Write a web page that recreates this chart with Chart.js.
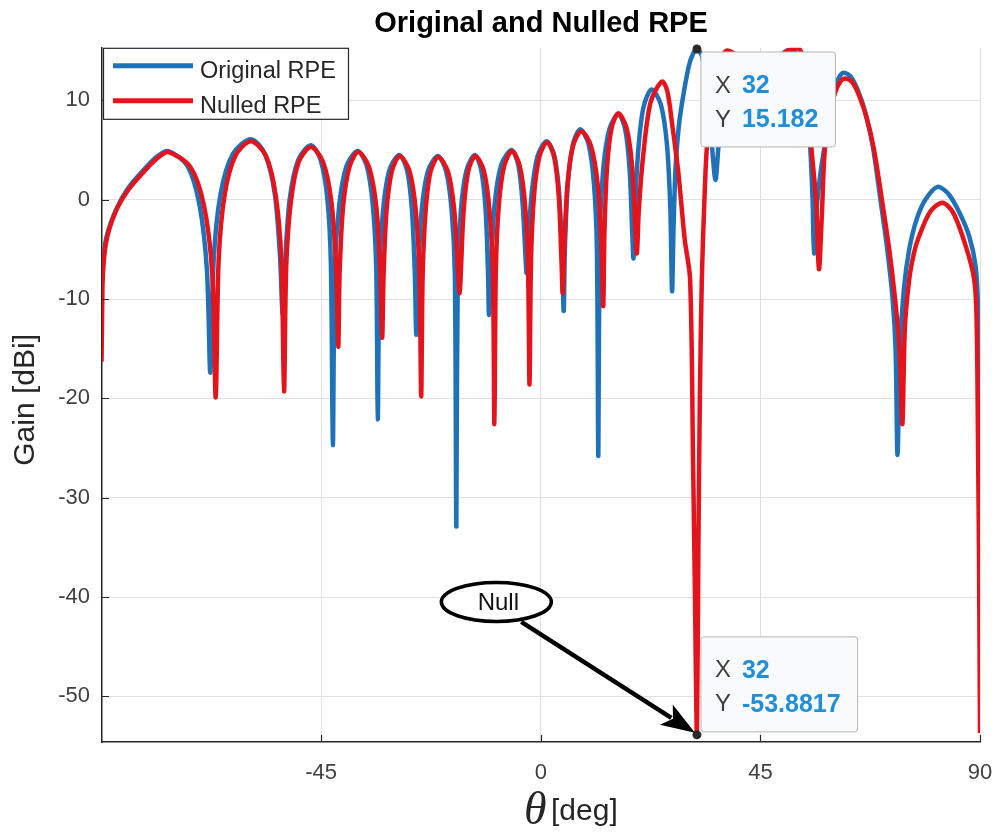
<!DOCTYPE html>
<html>
<head>
<meta charset="utf-8">
<title>Original and Nulled RPE</title>
<script src="https://cdn.jsdelivr.net/npm/chart.js@4.4.1/dist/chart.umd.min.js"></script>
<style>
  html, body { margin: 0; padding: 0; background: #fff; }
  #wrap { width: 994px; height: 832px; }
</style>
</head>
<body>
<div id="wrap"><canvas id="rpeChart" width="994" height="832"></canvas></div>
<script>
// Valores (theta em graus, ganho em dBi)
const xTicks = [-45, 0, 45, 90];
const yTicks = [-50, -40, -30, -20, -10, 0, 10];

const thetaOriginal = [
  -90, -89.7, -89.0, -87.0, -84.5, -81.0, -78.5, -76.3, -72.4, -69.9, -68.4, -67.7,
  -67.0, -65.6, -63.1, -59.4, -56.5, -54.5, -53.4, -52.9,
  -52.4, -51.45, -49.7, -47.1, -45.1, -43.7, -43.0, -42.6,
  -42.2, -41.3, -39.8, -37.5, -35.65, -34.4, -33.7, -33.4,
  -33.05, -32.3, -31.0, -29.0, -27.4, -26.4, -25.8, -25.5,
  -25.15, -24.4, -23.1, -21.1, -19.4, -18.25, -17.6, -17.3,
  -17.0, -16.35, -15.2, -13.5, -12.2, -11.3, -10.8, -10.6,
  -10.2, -9.45, -8.1, -6.0, -4.6, -3.7, -3.15, -2.9,
  -2.6, -1.9, -0.65, 1.2, 2.8, 3.8, 4.4, 4.7,
  4.95, 5.55, 6.6, 8.1, 9.8, 10.9, 11.5, 11.8,
  12.1, 12.8, 14.05, 15.9, 17.3, 18.2, 18.75, 19.0,
  19.3, 19.9, 21.0, 22.7, 24.6, 25.85, 26.55, 26.9,
  27.2, 27.6, 28.2, 28.9, 30.3, 31.2, 32.0, 33.0, 34.0, 34.6, 35.1, 35.8, 36.4,
  37.2, 38.3, 40.0, 42.5, 44.5, 46.0, 48.0, 51.0, 53.5, 54.6, 55.3, 55.7, 56.0,
  56.6, 57.4, 58.2, 59.3, 60.3, 61.2, 62.1, 63.5, 65.0, 66.5, 68.0, 69.6, 71.0, 72.1, 72.7, 73.1,
  73.6, 74.4, 75.5, 77.0, 78.8, 81.3, 83.5, 85.8, 87.8, 89.1, 89.6, 89.9, 90.0
];
const gainOriginal = [
  -9.0, -6.5, -3.8, -1.0, 1.2, 3.2, 4.4, 4.9, 3.4, -0.6, -7.1, -17.4,
  -5.9, 0.6, 4.6, 6.1, 4.6, 0.6, -5.9, -11.5,
  -6.5, 0.0, 4.0, 5.5, 4.0, 0.0, -6.5, -24.7,
  -7.1, -0.6, 3.4, 4.9, 3.4, -0.6, -7.1, -22.1,
  -7.5, -1.0, 3.0, 4.5, 3.0, -1.0, -7.5, -13.6,
  -7.6, -1.1, 2.9, 4.4, 2.9, -1.1, -7.6, -32.9,
  -7.5, -1.0, 3.0, 4.5, 3.0, -1.0, -7.5, -11.6,
  -7.0, -0.5, 3.5, 5.0, 3.5, -0.5, -5.5, -7.4,
  -5.0, 0.4, 4.4, 5.9, 4.4, 0.4, -6.1, -11.2,
  -4.9, 1.6, 5.6, 7.1, 5.6, 1.6, -4.9, -25.8,
  -3.4, 3.1, 7.1, 8.6, 7.1, 3.1, -3.4, -5.9,
  -1.5, 4.5, 9.2, 11.1, 9.6, 5.6, -0.9, -9.2,
  -3.0, 3.0, 7.0, 9.6, 13.4, 14.7, 15.18, 14.5, 11.5, 8.3, 5.3, 2.0, 5.3,
  9.5, 12.8, 14.6, 13.5, 10.5, 11.0, 13.8, 15.1, 14.0, 10.0, 4.5, 0.0, -5.4,
  -0.5, 3.0, 5.5, 9.0, 11.2, 12.4, 12.8, 12.4, 11.0, 8.8, 5.5, 0.0, -5.0, -10.0, -15.0, -25.7,
  -15.0, -9.0, -5.0, -2.0, 0.0, 1.3, 0.6, -1.3, -3.7, -6.7, -11.0, -22.0, -39.5
];

const thetaNulled = [
  -90, -89.8, -89.1, -87.2, -84.5, -81.0, -78.5, -76.3, -71.8, -69.0, -67.3, -66.6,
  -66.0, -64.8, -62.6, -59.4, -56.3, -54.3, -53.15, -52.6,
  -52.15, -51.2, -49.6, -47.1, -44.6, -42.9, -41.95, -41.5,
  -41.2, -40.5, -39.2, -37.4, -35.2, -33.7, -32.9, -32.5,
  -32.2, -31.6, -30.5, -28.9, -26.9, -25.6, -24.85, -24.5,
  -24.2, -23.6, -22.6, -21.0, -19.0, -17.7, -16.95, -16.6,
  -16.35, -15.8, -14.85, -13.4, -11.65, -10.5, -9.8, -9.5,
  -9.2, -8.6, -7.5, -5.9, -4.3, -3.2, -2.6, -2.3,
  -2.0, -1.4, -0.3, 1.3, 2.75, 3.7, 4.25, 4.5,
  4.8, 5.45, 6.6, 8.3, 10.3, 11.7, 12.45, 12.8,
  13.05, 13.58, 14.5, 15.9, 17.6, 18.75, 19.4, 19.7,
  20.1, 21.0, 22.5, 24.8, 25.9, 26.9, 28.2, 29.5, 30.6, 31.2, 31.6, 32.0,
  32.3, 32.6, 33.0, 33.5, 34.0, 35.0, 36.5, 38.0, 40.0, 43.0, 45.0, 47.0, 50.0, 53.0, 54.5, 55.5, 56.4, 57.0,
  57.6, 58.2, 59.3, 60.3, 61.4, 62.5, 63.9, 65.3, 66.8, 68.3, 69.9, 71.4, 72.6, 73.5, 74.1,
  74.6, 75.5, 76.5, 77.5, 79.8, 82.3, 84.5, 87.1, 88.8, 89.3, 89.6, 89.8, 90.0
];
const gainNulled = [
  -16.3, -8.5, -4.4, -1.3, 1.0, 3.0, 4.2, 4.8, 3.3, -0.6, -7.5, -19.9,
  -6.1, 0.4, 4.4, 5.9, 4.4, 0.4, -6.1, -19.3,
  -6.7, -0.2, 3.8, 5.3, 3.8, -0.2, -6.7, -14.8,
  -7.2, -0.7, 3.3, 4.8, 3.3, -0.7, -7.2, -13.9,
  -7.6, -1.1, 2.9, 4.4, 2.9, -1.1, -7.6, -19.8,
  -7.7, -1.2, 2.8, 4.3, 2.8, -1.2, -7.3, -9.4,
  -7.0, -1.1, 2.9, 4.4, 2.9, -1.1, -7.6, -22.6,
  -7.1, -0.6, 3.4, 4.9, 3.4, -0.6, -7.1, -18.6,
  -6.2, 0.3, 4.3, 5.8, 4.3, 0.3, -6.2, -9.4,
  -5.1, 1.4, 5.4, 6.9, 5.4, 1.4, -5.1, -10.7,
  -3.3, 3.2, 7.2, 8.7, 7.2, 3.2, -3.3, -5.4,
  -1.0, 4.5, 9.8, 11.9, 11.0, 7.7, 2.7, -4.0, -8.0, -26.0, -40.0, -53.88,
  -35.0, -20.0, -8.0, -0.5, 5.0, 10.0, 13.5, 15.0, 14.5, 11.0, 9.0, 11.5, 14.8, 15.2, 12.0, 5.0, 0.0, -7.0,
  -1.5, 5.0, 8.8, 10.8, 11.9, 12.2, 11.8, 10.4, 8.2, 5.0, 0.0, -5.0, -10.0, -15.0, -22.6,
  -13.0, -8.0, -5.3, -3.7, -1.2, -0.3, -1.3, -4.7, -8.0, -12.0, -25.0, -36.0, -53.7
];

// Datatips e anotação "Null"
const tipTheta = 32;
const tipTopGain = 15.182;
const tipBottomGain = -53.8817;
const nullLabelAt = [-9.1, -40.5];
const arrowFrom = [-4.0, -42.5];

const fontSans = '"Liberation Sans", Arial, Helvetica, sans-serif';
const axisColor = '#262626';
const tickColor = '#404040';

function toPoints(xs, ys) {
  return xs.map((t, i) => ({ x: t, y: ys[i] }));
}

function roundBox(ctx, x, y, w, h, r) {
  ctx.beginPath();
  ctx.moveTo(x + r, y);
  ctx.lineTo(x + w - r, y);
  ctx.quadraticCurveTo(x + w, y, x + w, y + r);
  ctx.lineTo(x + w, y + h - r);
  ctx.quadraticCurveTo(x + w, y + h, x + w - r, y + h);
  ctx.lineTo(x + r, y + h);
  ctx.quadraticCurveTo(x, y + h, x, y + h - r);
  ctx.lineTo(x, y + r);
  ctx.quadraticCurveTo(x, y, x + r, y);
  ctx.closePath();
}

// Caixa de datatip no estilo MATLAB
function drawTip(ctx, px, py, xv, yv, below) {
  ctx.font = 'bold 25px ' + fontSans;
  const vw = Math.max(ctx.measureText(String(xv)).width, ctx.measureText(String(yv)).width);
  const w = 41 + vw + 17;
  const h = 95;
  const left = px + 4;
  const top = below ? py + 3 : py - 3 - h;

  roundBox(ctx, left, top, w, h, 3);
  ctx.fillStyle = '#f9fafc';
  ctx.fill();
  ctx.strokeStyle = '#b5b5b5';
  ctx.lineWidth = 1;
  ctx.stroke();

  ctx.textBaseline = 'middle';
  ctx.textAlign = 'left';
  ctx.font = '24px ' + fontSans;
  ctx.fillStyle = '#404040';
  ctx.fillText('X', left + 14, top + 34);
  ctx.fillText('Y', left + 14, top + 68);
  ctx.font = 'bold 25px ' + fontSans;
  ctx.fillStyle = '#1f8fdb';
  ctx.fillText(String(xv), left + 41, top + 34);
  ctx.fillText(String(yv), left + 41, top + 68);

  ctx.beginPath();
  ctx.arc(px, py, 4.5, 0, Math.PI * 2);
  ctx.fillStyle = '#2a2a2a';
  ctx.fill();
}

const overlayPlugin = {
  id: 'overlay',
  afterDraw(chart) {
    const { ctx, chartArea: a, scales: { x, y } } = chart;
    ctx.save();

    // marcas dos ticks para dentro
    ctx.strokeStyle = axisColor;
    ctx.lineWidth = 1.2;
    ctx.beginPath();
    xTicks.forEach(v => {
      const px = Math.round(x.getPixelForValue(v)) + 0.5;
      ctx.moveTo(px, a.bottom);
      ctx.lineTo(px, a.bottom - 7);
    });
    yTicks.forEach(v => {
      const py = Math.round(y.getPixelForValue(v)) + 0.5;
      ctx.moveTo(a.left, py);
      ctx.lineTo(a.left + 7, py);
    });
    ctx.stroke();

    // legenda
    const lx = a.left + 1, ly = a.top, lw = 245, lh = 71;
    ctx.fillStyle = '#ffffff';
    ctx.fillRect(lx, ly, lw, lh);
    ctx.strokeStyle = axisColor;
    ctx.lineWidth = 1.2;
    ctx.strokeRect(lx + 0.5, ly + 0.5, lw, lh);
    ctx.font = '23.5px ' + fontSans;
    ctx.textBaseline = 'alphabetic';
    ctx.textAlign = 'left';
    chart.data.datasets.forEach((ds, i) => {
      const rowY = ly + 18 + i * 35;
      ctx.strokeStyle = ds.borderColor;
      ctx.lineWidth = 5;
      ctx.beginPath();
      ctx.moveTo(lx + 10, rowY);
      ctx.lineTo(lx + 90, rowY);
      ctx.stroke();
      ctx.fillStyle = axisColor;
      ctx.fillText(ds.label, lx + 97, rowY + 12);
    });

    // datatips
    const tpx = x.getPixelForValue(tipTheta);
    drawTip(ctx, tpx, y.getPixelForValue(tipTopGain), tipTheta, tipTopGain, true);
    drawTip(ctx, tpx, y.getPixelForValue(tipBottomGain), tipTheta, tipBottomGain, false);

    // anotação "Null" com seta
    const ex = x.getPixelForValue(nullLabelAt[0]);
    const ey = y.getPixelForValue(nullLabelAt[1]);
    const sx = x.getPixelForValue(arrowFrom[0]);
    const sy = y.getPixelForValue(arrowFrom[1]);
    const tx = tpx - 2;
    const ty = y.getPixelForValue(tipBottomGain) - 2;
    const ang = Math.atan2(ty - sy, tx - sx);
    const headLen = 34, headHalf = 12;
    const bx = tx - headLen * Math.cos(ang);
    const by = ty - headLen * Math.sin(ang);

    ctx.strokeStyle = '#000';
    ctx.lineWidth = 4.5;
    ctx.beginPath();
    ctx.moveTo(sx, sy);
    ctx.lineTo(bx + 6 * Math.cos(ang), by + 6 * Math.sin(ang));
    ctx.stroke();
    ctx.fillStyle = '#000';
    ctx.beginPath();
    ctx.moveTo(tx, ty);
    ctx.lineTo(bx - headHalf * Math.sin(ang), by + headHalf * Math.cos(ang));
    ctx.lineTo(bx + 8 * Math.cos(ang), by + 8 * Math.sin(ang));
    ctx.lineTo(bx + headHalf * Math.sin(ang), by - headHalf * Math.cos(ang));
    ctx.closePath();
    ctx.fill();

    ctx.beginPath();
    ctx.ellipse(ex, ey, 55, 19.5, 0, 0, Math.PI * 2);
    ctx.fillStyle = '#fff';
    ctx.fill();
    ctx.lineWidth = 3.5;
    ctx.strokeStyle = '#000';
    ctx.stroke();
    ctx.fillStyle = '#111';
    ctx.font = '24px ' + fontSans;
    ctx.textAlign = 'center';
    ctx.textBaseline = 'middle';
    ctx.fillText('Null', ex + 2, ey + 1);

    // rótulos dos eixos
    ctx.fillStyle = axisColor;
    ctx.save();
    ctx.translate(26, (a.top + a.bottom) / 2 + 5);
    ctx.rotate(-Math.PI / 2);
    ctx.font = '30px ' + fontSans;
    ctx.textAlign = 'center';
    ctx.textBaseline = 'middle';
    ctx.fillText('Gain [dBi]', 0, 0);
    ctx.restore();

    const cx = (a.left + a.right) / 2;
    ctx.textAlign = 'left';
    ctx.textBaseline = 'alphabetic';
    ctx.font = 'italic 46px "Liberation Serif", "DejaVu Serif", serif';
    ctx.fillText('\u03B8', cx - 17, 824);
    ctx.font = '30px ' + fontSans;
    ctx.fillText('[deg]', cx + 10, 820);

    ctx.restore();
  }
};

const ctx = document.getElementById('rpeChart').getContext('2d');

new Chart(ctx, {
  type: 'line',
  data: {
    datasets: [
      {
        label: 'Original RPE',
        data: toPoints(thetaOriginal, gainOriginal),
        borderColor: '#1f72b8',
        borderWidth: 4.5,
        pointRadius: 0,
        tension: 0.3,
        fill: false,
        order: 1
      },
      {
        label: 'Nulled RPE',
        data: toPoints(thetaNulled, gainNulled),
        borderColor: '#e3141c',
        borderWidth: 4.5,
        pointRadius: 0,
        tension: 0.3,
        fill: false,
        order: 0
      }
    ]
  },
  options: {
    responsive: false,
    animation: false,
    devicePixelRatio: 1,
    layout: { padding: { left: 0, right: 14, top: 0, bottom: 0 } },
    scales: {
      x: {
        type: 'linear',
        min: -89.9,
        max: 90,
        afterBuildTicks: s => { s.ticks = xTicks.map(v => ({ value: v })); },
        afterFit: s => { s.height = 90; s.paddingLeft = 0; s.paddingRight = 0; },
        ticks: {
          font: { family: fontSans, size: 22 },
          color: tickColor,
          padding: 18,
          maxRotation: 0,
          autoSkip: false
        },
        grid: { color: '#e0e0e0', lineWidth: 1, drawTicks: false },
        border: { color: axisColor, width: 1.5 }
      },
      y: {
        type: 'linear',
        min: -54.6,
        max: 15.3,
        afterBuildTicks: s => { s.ticks = yTicks.map(v => ({ value: v })); },
        afterFit: s => { s.width = 102; s.paddingTop = 0; s.paddingBottom = 0; },
        ticks: {
          font: { family: fontSans, size: 22 },
          color: tickColor,
          padding: 12,
          autoSkip: false
        },
        grid: { color: '#e0e0e0', lineWidth: 1, drawTicks: false },
        border: { color: axisColor, width: 1.5 }
      }
    },
    plugins: {
      legend: { display: false },
      tooltip: { enabled: false },
      title: {
        display: true,
        fullSize: false,
        text: 'Original and Nulled RPE',
        color: '#000',
        font: { family: fontSans, size: 29, weight: 'bold' },
        padding: { top: 7, bottom: 6 }
      }
    }
  },
  plugins: [overlayPlugin]
});
</script>
</body>
</html>
